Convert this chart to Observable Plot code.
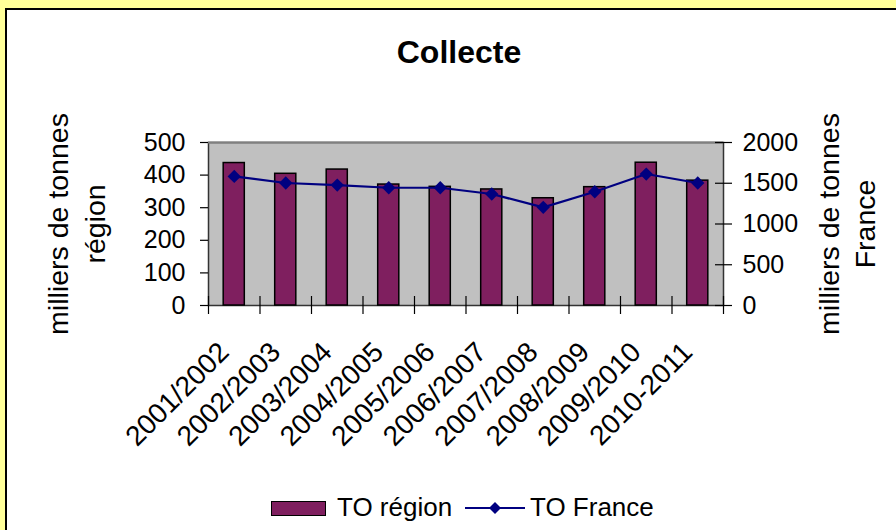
<!DOCTYPE html>
<html>
<head>
<meta charset="utf-8">
<script src="https://cdn.jsdelivr.net/npm/d3@7"></script>
<script src="https://cdn.jsdelivr.net/npm/@observablehq/plot@0.6"></script>
<style>
  html, body { margin: 0; padding: 0; }
  body { width: 896px; height: 530px; overflow: hidden; background: #FFFF99; position: relative; font-family: "Liberation Sans", Arial, sans-serif; }
  #panel { position: absolute; left: 5px; top: 8px; width: 1000px; height: 1000px; background: #fff; border: 2px solid #000; box-sizing: border-box; }
  #chart { position: absolute; left: 0; top: 0; }
  #title { position: absolute; left: 309px; width: 300px; top: 36px; text-align: center; font-size: 32px; line-height: 32px; font-weight: bold; color: #000; }
  .leg { position: absolute; font-size: 26px; line-height: 26px; color: #000; white-space: nowrap; }
</style>
</head>
<body>
<div id="panel"></div>
<div id="chart"></div>
<div id="title">Collecte</div>
<div id="legend"></div>
<script>
const categories = ["2001/2002","2002/2003","2003/2004","2004/2005","2005/2006","2006/2007","2007/2008","2008/2009","2009/2010","2010-2011"];
const toRegion = [437, 404, 417, 371, 364, 356, 329, 363, 438, 383];
const toFrance = [1584, 1503, 1478, 1445, 1445, 1368, 1204, 1396, 1613, 1503];
const leftTicks = [0, 100, 200, 300, 400, 500];
const rightTicks = [0, 500, 1000, 1500, 2000];
const seriesNames = ["TO région", "TO France"];
const axisTitleLeft = "milliers de tonnes\nrégion";
const axisTitleRight = "milliers de tonnes\nFrance";

const leftMax = 500, rightMax = 2000, ratio = rightMax / leftMax;
const data = categories.map((c, i) => ({cat: c, region: toRegion[i], france: toFrance[i]}));

const W = 896, H = 470;
const mL = 208, mR = 173, mT = 142, mB = H - 305;
const pi = 0.59, po = 0.295;
const step = (W - mL - mR) / (categories.length - pi + 2 * po);
const barColor = "#7f1f5f", lineColor = "#000080";
const font = "Liberation Sans, Arial, sans-serif";

const chart = Plot.plot({
  width: W, height: H,
  marginLeft: mL, marginRight: mR, marginTop: mT, marginBottom: mB,
  style: {fontFamily: font, color: "#000", background: "transparent", overflow: "visible"},
  x: {type: "band", domain: categories, paddingInner: pi, paddingOuter: po, round: false, axis: null, label: null},
  y: {domain: [0, leftMax], axis: null, label: null},
  marks: [
    Plot.frame({fill: "#c0c0c0", stroke: "#333", strokeWidth: 1.5}),
    Plot.ruleY([leftMax], {stroke: "#808080", strokeWidth: 2}),
    // category boundary ticks (crossing the axis)
    Plot.axisX(categories, {anchor: "bottom", label: null, tickSize: 18, dy: -9, dx: -step / 2, tickFormat: () => "", strokeWidth: 1.2}),
    Plot.axisX([categories[categories.length - 1]], {anchor: "bottom", label: null, tickSize: 18, dy: -9, dx: step / 2, tickFormat: () => "", strokeWidth: 1.2}),
    // left axis
    Plot.axisY(leftTicks, {anchor: "left", label: null, tickSize: 8, tickPadding: 15, fontSize: 25, strokeWidth: 1.2, tickFormat: d => String(d)}),
    // right axis (crossing ticks)
    Plot.axisY(rightTicks.map(v => v / ratio), {anchor: "right", label: null, tickSize: 17, dx: -9, tickPadding: 11, fontSize: 25, strokeWidth: 1.2, tickFormat: d => String(d * ratio)}),
    // bars
    Plot.barY(data, {x: "cat", y: "region", fill: barColor, stroke: "#000", strokeWidth: 1.5}),
    // line + markers
    Plot.lineY(data, {x: "cat", y: d => d.france / ratio, stroke: lineColor, strokeWidth: 2.2}),
    Plot.dot(data, {x: "cat", y: d => d.france / ratio, symbol: "diamond2", r: 6, fill: lineColor, stroke: "none"}),
    // category labels
    Plot.text(categories, {x: d => d, y: () => 0, dx: -10, dy: 42, rotate: -45, textAnchor: "end", lineAnchor: "middle", fontSize: 28, fill: "#000"}),
    // axis titles
    Plot.text([axisTitleLeft], {frameAnchor: "left", dx: -134, rotate: -90, lineHeight: 1.32, fontSize: 28.5, fill: "#000", textAnchor: "middle", lineAnchor: "middle"}),
    Plot.text([axisTitleRight], {frameAnchor: "right", dx: 122, rotate: -90, lineHeight: 1.28, fontSize: 28.5, fill: "#000", textAnchor: "middle", lineAnchor: "middle"})
  ]
});
document.getElementById("chart").appendChild(chart);

// Legend
const legend = document.getElementById("legend");
legend.innerHTML = `
  <div style="position:absolute;left:271px;top:501px;width:55px;height:15px;background:${barColor};border:1.5px solid #000;box-sizing:border-box;"></div>
  <div class="leg" style="left:337px;top:494px;">${seriesNames[0]}</div>
  <svg style="position:absolute;left:462px;top:498px;" width="66" height="20">
    <line x1="3" y1="10" x2="63" y2="10" stroke="${lineColor}" stroke-width="2"/>
    <path d="M33,4 L39,10 L33,16 L27,10 Z" fill="${lineColor}"/>
  </svg>
  <div class="leg" style="left:530px;top:494px;">${seriesNames[1]}</div>
`;
</script>
</body>
</html>
